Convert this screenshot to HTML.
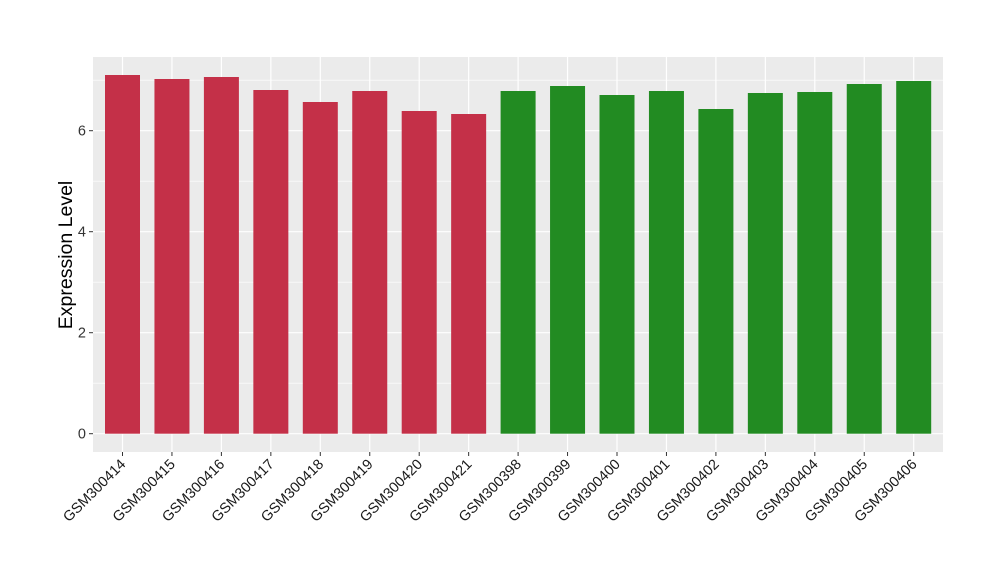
<!DOCTYPE html>
<html><head><meta charset="utf-8"><style>body{margin:0;background:#fff}</style></head><body>
<svg width="1000" height="580" xmlns="http://www.w3.org/2000/svg" font-family="Liberation Sans, sans-serif">
<rect x="93" y="57" width="850" height="395" fill="#ebebeb"/>
<g stroke="#fff" stroke-width="0.6">
<line x1="93" x2="943" y1="383.2" y2="383.2"/><line x1="93" x2="943" y1="282.2" y2="282.2"/><line x1="93" x2="943" y1="181.2" y2="181.2"/><line x1="93" x2="943" y1="80.2" y2="80.2"/>
</g>
<g stroke="#fff" stroke-width="1.2" id="grid"></g>
<g id="bars"></g>
<g id="ticks" stroke="#333" stroke-width="1"></g>
<g id="labels" font-size="14.5" fill="#1a1a1a"></g>
<g font-size="14.5" fill="#333" text-anchor="end">
<text x="86" y="438.5">0</text><text x="86" y="337.5">2</text><text x="86" y="236.5">4</text><text x="86" y="135.5">6</text>
</g>
<g stroke="#333"><line x1="89" x2="93" y1="433.7" y2="433.7"/><line x1="89" x2="93" y1="332.7" y2="332.7"/><line x1="89" x2="93" y1="231.7" y2="231.7"/><line x1="89" x2="93" y1="130.7" y2="130.7"/></g>
<text transform="translate(72,255) rotate(-90)" font-size="19.5" text-anchor="middle" fill="#000">Expression Level</text>
<script>
var names=["GSM300414","GSM300415","GSM300416","GSM300417","GSM300418","GSM300419","GSM300420","GSM300421","GSM300398","GSM300399","GSM300400","GSM300401","GSM300402","GSM300403","GSM300404","GSM300405","GSM300406"];
var tops=[75,79,77,90,102,91,111,114,91,86,95,91,109,93,92,84,81];
var ns="http://www.w3.org/2000/svg";
function el(t,a,p){var e=document.createElementNS(ns,t);for(var k in a)e.setAttribute(k,a[k]);document.getElementById(p).appendChild(e);return e;}
el("line",{x1:93,x2:943,y1:433.7,y2:433.7},"grid");
el("line",{x1:93,x2:943,y1:332.7,y2:332.7},"grid");
el("line",{x1:93,x2:943,y1:231.7,y2:231.7},"grid");
el("line",{x1:93,x2:943,y1:130.7,y2:130.7},"grid");
for(var i=0;i<17;i++){var c=122.5+i*49.45;
el("line",{x1:c,x2:c,y1:57,y2:452},"grid");}
for(var i=0;i<17;i++){var c=122.5+i*49.45;
el("rect",{x:c-17.5,y:tops[i],width:35,height:433.7-tops[i],fill:i<8?"#c43048":"#228b22"},"bars");
el("line",{x1:c,x2:c,y1:452,y2:456},"ticks");
var t=el("text",{x:c+4,y:465,"text-anchor":"end",transform:"rotate(-45 "+(c+4)+" 465)"},"labels");t.textContent=names[i];}
</script>
</svg>
</body></html>
